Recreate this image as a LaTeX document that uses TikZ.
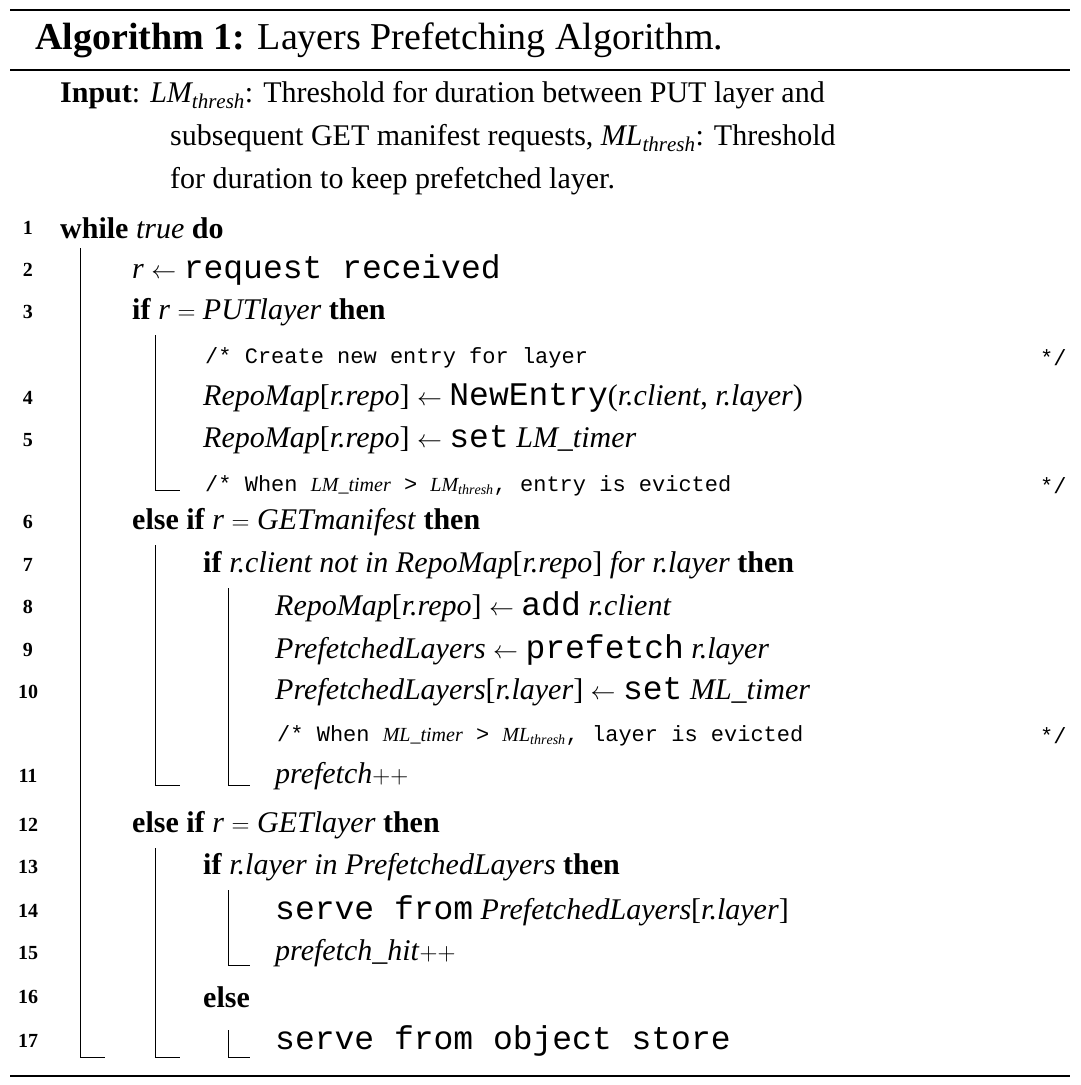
\documentclass[tikz,border=0pt]{standalone}
\usepackage{fontspec}
\setmainfont{Liberation Serif}
\setmonofont{Liberation Mono}
\newcommand{\mytt}[1]{{\fontsize{33}{36}\selectfont\ttfamily #1}}
\begin{document}
\begin{tikzpicture}[x=1pt,y=-1pt,
 t/.style={anchor=west,inner sep=0pt,font=\fontsize{30}{36}\selectfont},
 num/.style={anchor=center,inner sep=0pt,font=\fontsize{20}{24}\selectfont\bfseries},
 cmt/.style={anchor=west,inner sep=0pt,font=\fontsize{22}{26}\selectfont\ttfamily},
 bar/.style={line width=1pt}]
\useasboundingbox (0,0) rectangle (1080,1085);
\draw[line width=1.2pt] (10,10) -- (1070,10);
\node[anchor=west,inner sep=0pt,font=\fontsize{38}{44}\selectfont] (ttl) at (35,40) {\textbf{Algorithm 1:} Layers Prefetching Algorithm.};
\draw[line width=2.5pt] (10,70) -- (1070,70);
\node[t] (in1) at (60,95) {\textbf{Input}: \textit{LM$_{\mathit{thresh}}$}: Threshold for duration between PUT layer and};
\node[t] (in2) at (170,138) {subsequent GET manifest requests, \textit{ML$_{\mathit{thresh}}$}: Threshold};
\node[t] (in3) at (170,181) {for duration to keep prefetched layer.};
\foreach \n/\y in {1/228,2/270,3/312,4/398,5/440,6/522,7/565,8/607,9/650,10/692,11/776,12/825,13/867,14/911,15/953,16/997,17/1041}
  \node[num] (n\n) at (28,\y) {\n};
\node[t] (l1) at (60,228) {\textbf{while} \textit{true} \textbf{do}};
\node[t] (l2) at (132,270) {\textit{r} $\leftarrow$ \mytt{request received}};
\node[t] (l3) at (132,312) {\textbf{if} \textit{r} $=$ \textit{PUTlayer} \textbf{then}};
\node[cmt] (c1) at (205,358) {/* Create new entry for layer};
\node[cmt] (c1e) at (1040,358) {*/};
\node[t] (l4) at (203,398) {\textit{RepoMap}[\textit{r.repo}] $\leftarrow$ \mytt{NewEntry}(\textit{r.client}, \textit{r.layer})};
\node[t] (l5) at (203,440) {\textit{RepoMap}[\textit{r.repo}] $\leftarrow$ \mytt{set} \textit{LM\_timer}};
\node[cmt] (c2) at (205,486) {/* When {\rmfamily\itshape\fontsize{20}{24}\selectfont LM\_timer} > {\rmfamily\itshape\fontsize{20}{24}\selectfont LM$_{\mathit{thresh}}$}, entry is evicted};
\node[cmt] (c2e) at (1040,486) {*/};
\node[t] (l6) at (132,522) {\textbf{else if} \textit{r} $=$ \textit{GETmanifest} \textbf{then}};
\node[t] (l7) at (203,565) {\textbf{if} \textit{r.client not in RepoMap}[\textit{r.repo}] \textit{for r.layer} \textbf{then}};
\node[t] (l8) at (275,607) {\textit{RepoMap}[\textit{r.repo}] $\leftarrow$ \mytt{add} \textit{r.client}};
\node[t] (l9) at (275,650) {\textit{PrefetchedLayers} $\leftarrow$ \mytt{prefetch} \textit{r.layer}};
\node[t] (l10) at (275,692) {\textit{PrefetchedLayers}[\textit{r.layer}] $\leftarrow$ \mytt{set} \textit{ML\_timer}};
\node[cmt] (c3) at (277,736) {/* When {\rmfamily\itshape\fontsize{20}{24}\selectfont ML\_timer} > {\rmfamily\itshape\fontsize{20}{24}\selectfont ML$_{\mathit{thresh}}$}, layer is evicted};
\node[cmt] (c3e) at (1040,736) {*/};
\node[t] (l11) at (275,776) {\textit{prefetch}$++$};
\node[t] (l12) at (132,825) {\textbf{else if} \textit{r} $=$ \textit{GETlayer} \textbf{then}};
\node[t] (l13) at (203,867) {\textbf{if} \textit{r.layer in PrefetchedLayers} \textbf{then}};
\node[t] (l14) at (275,911) {\mytt{serve from} \textit{PrefetchedLayers}[\textit{r.layer}]};
\node[t] (l15) at (275,953) {\textit{prefetch\_hit}$++$};
\node[t] (l16) at (203,997) {\textbf{else}};
\node[t] (l17) at (275,1041) {\mytt{serve from object store}};
\draw[bar] (80,248) -- (80,1057) -- (105,1057);
\draw[bar] (155,335) -- (155,490) -- (180,490);
\draw[bar] (155,545) -- (155,785) -- (180,785);
\draw[bar] (228,588) -- (228,785) -- (250,785);
\draw[bar] (155,848) -- (155,1057) -- (180,1057);
\draw[bar] (228,890) -- (228,965) -- (250,965);
\draw[bar] (228,1030) -- (228,1057) -- (250,1057);
\draw[line width=2.5pt] (10,1076) -- (1070,1076);
\end{tikzpicture}
\end{document}
